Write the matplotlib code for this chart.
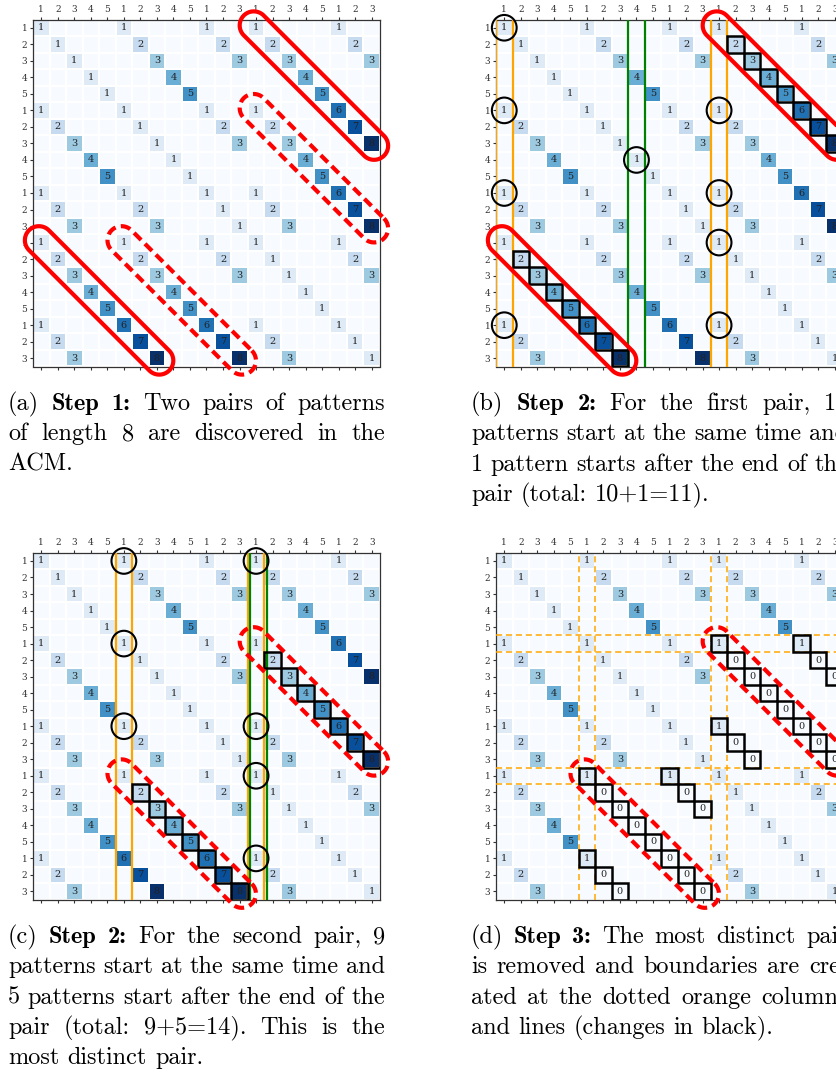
import numpy as np
import matplotlib
matplotlib.use('Agg')
import matplotlib.pyplot as plt
from matplotlib.patches import Polygon, Ellipse, Rectangle

plt.rcParams['font.family'] = 'DejaVu Serif'

# symbols of the sequence (row / column tick labels)
tick_labels = [1, 2, 3, 4, 5, 1, 2, 3, 4, 5, 1, 2, 3, 1, 2, 3, 4, 5, 1, 2, 3]

# accumulated cost matrix (ACM)
acm = [
    [1, 0, 0, 0, 0, 1, 0, 0, 0, 0, 1, 0, 0, 1, 0, 0, 0, 0, 1, 0, 0],
    [0, 1, 0, 0, 0, 0, 2, 0, 0, 0, 0, 2, 0, 0, 2, 0, 0, 0, 0, 2, 0],
    [0, 0, 1, 0, 0, 0, 0, 3, 0, 0, 0, 0, 3, 0, 0, 3, 0, 0, 0, 0, 3],
    [0, 0, 0, 1, 0, 0, 0, 0, 4, 0, 0, 0, 0, 0, 0, 0, 4, 0, 0, 0, 0],
    [0, 0, 0, 0, 1, 0, 0, 0, 0, 5, 0, 0, 0, 0, 0, 0, 0, 5, 0, 0, 0],
    [1, 0, 0, 0, 0, 1, 0, 0, 0, 0, 1, 0, 0, 1, 0, 0, 0, 0, 6, 0, 0],
    [0, 2, 0, 0, 0, 0, 1, 0, 0, 0, 0, 2, 0, 0, 2, 0, 0, 0, 0, 7, 0],
    [0, 0, 3, 0, 0, 0, 0, 1, 0, 0, 0, 0, 3, 0, 0, 3, 0, 0, 0, 0, 8],
    [0, 0, 0, 4, 0, 0, 0, 0, 1, 0, 0, 0, 0, 0, 0, 0, 4, 0, 0, 0, 0],
    [0, 0, 0, 0, 5, 0, 0, 0, 0, 1, 0, 0, 0, 0, 0, 0, 0, 5, 0, 0, 0],
    [1, 0, 0, 0, 0, 1, 0, 0, 0, 0, 1, 0, 0, 1, 0, 0, 0, 0, 6, 0, 0],
    [0, 2, 0, 0, 0, 0, 2, 0, 0, 0, 0, 1, 0, 0, 2, 0, 0, 0, 0, 7, 0],
    [0, 0, 3, 0, 0, 0, 0, 3, 0, 0, 0, 0, 1, 0, 0, 3, 0, 0, 0, 0, 8],
    [1, 0, 0, 0, 0, 1, 0, 0, 0, 0, 1, 0, 0, 1, 0, 0, 0, 0, 1, 0, 0],
    [0, 2, 0, 0, 0, 0, 2, 0, 0, 0, 0, 2, 0, 0, 1, 0, 0, 0, 0, 2, 0],
    [0, 0, 3, 0, 0, 0, 0, 3, 0, 0, 0, 0, 3, 0, 0, 1, 0, 0, 0, 0, 3],
    [0, 0, 0, 4, 0, 0, 0, 0, 4, 0, 0, 0, 0, 0, 0, 0, 1, 0, 0, 0, 0],
    [0, 0, 0, 0, 5, 0, 0, 0, 0, 5, 0, 0, 0, 0, 0, 0, 0, 1, 0, 0, 0],
    [1, 0, 0, 0, 0, 6, 0, 0, 0, 0, 6, 0, 0, 1, 0, 0, 0, 0, 1, 0, 0],
    [0, 2, 0, 0, 0, 0, 7, 0, 0, 0, 0, 7, 0, 0, 2, 0, 0, 0, 0, 1, 0],
    [0, 0, 3, 0, 0, 0, 0, 8, 0, 0, 0, 0, 8, 0, 0, 3, 0, 0, 0, 0, 1],
]

# step 3: cells recomputed after removing the most distinct pair (row, col, new value)
step3_rows = [5, 6, 7, 8, 9, 10, 11, 12, 5, 6, 7, 10, 11, 12,
              13, 14, 15, 16, 17, 18, 19, 20, 18, 19, 20, 13, 14, 15]
step3_cols = [13, 14, 15, 16, 17, 18, 19, 20, 18, 19, 20, 13, 14, 15,
              5, 6, 7, 8, 9, 10, 11, 12, 5, 6, 7, 10, 11, 12]
step3_vals = [1, 0, 0, 0, 0, 0, 0, 0, 1, 0, 0, 1, 0, 0,
              1, 0, 0, 0, 0, 0, 0, 0, 1, 0, 0, 1, 0, 0]

# pairs of patterns: (start row, start col, end row, end col)
pair1 = [(0, 13, 7, 20), (13, 0, 20, 7)]
pair2 = [(5, 13, 12, 20), (13, 5, 20, 12)]

# circled pattern starts
circles_b = [(0, 0), (5, 0), (10, 0), (18, 0), (5, 13), (10, 13), (13, 13), (18, 13), (8, 8)]
circles_c = [(0, 5), (5, 5), (10, 5), (0, 13), (10, 13), (13, 13), (18, 13)]

captions = {
    'a': ["(a) *Step 1:* Two pairs of patterns",
          "of length 8 are discovered in the",
          "ACM."],
    'b': ["(b) *Step 2:* For the first pair, 10",
          "patterns start at the same time and",
          "1 pattern starts after the end of the",
          "pair (total: 10+1=11)."],
    'c': ["(c) *Step 2:* For the second pair, 9",
          "patterns start at the same time and",
          "5 patterns start after the end of the",
          "pair (total: 9+5=14). This is the",
          "most distinct pair."],
    'd': ["(d) *Step 3:* The most distinct pair",
          "is removed and boundaries are cre-",
          "ated at the dotted orange columns",
          "and lines (changes in black)."],
}

W, H = 837, 1072
fig = plt.figure(figsize=(W / 100, H / 100), dpi=100)
n = len(tick_labels)


def make_ax(x0, y0, size=347):
    return fig.add_axes([x0 / W, 1 - (y0 + size) / H, size / W, size / H])


def draw_acm(ax, mat, extra=()):
    mat = np.array(mat)
    ax.pcolormesh(np.arange(n + 1), np.arange(n + 1), mat, cmap='Blues', vmin=0, vmax=8,
                  edgecolors='white', linewidth=0.3)
    for i in range(n):
        for j in range(n):
            if mat[i, j] or (i, j) in extra:
                ax.text(j + 0.5, i + 0.5, str(mat[i, j]), ha='center', va='center',
                        fontsize=7, color='#222222')
    ax.set_xlim(0, n)
    ax.set_ylim(n, 0)
    ax.set_xticks(np.arange(n) + 0.5)
    ax.set_yticks(np.arange(n) + 0.5)
    ax.set_xticklabels(tick_labels)
    ax.set_yticklabels(tick_labels)
    ax.tick_params(length=2.5, width=0.8, pad=1.5, labelsize=6.5, colors='#333333',
                   top=True, labeltop=True, bottom=True, labelbottom=False,
                   left=True, labelleft=True, right=False)
    for s in ax.spines.values():
        s.set_linewidth(0.9)
        s.set_color('#333333')


def stadium(ax, r0, c0, r1, c1, dashed=False, rad=0.85, ext=0.2):
    p0 = np.array([c0 + 0.5, r0 + 0.5])
    p1 = np.array([c1 + 0.5, r1 + 0.5])
    u = (p1 - p0) / np.linalg.norm(p1 - p0)
    nv = np.array([-u[1], u[0]])
    a = p0 - u * ext
    b = p1 + u * ext
    t1 = np.linspace(-np.pi / 2, np.pi / 2, 40)
    t2 = np.linspace(np.pi / 2, 3 * np.pi / 2, 40)
    pts = [b + rad * (np.cos(t) * u + np.sin(t) * nv) for t in t1]
    pts += [a + rad * (np.cos(t) * u + np.sin(t) * nv) for t in t2]
    poly = Polygon(pts, closed=True, fill=False, ec='red', lw=3, zorder=6, clip_on=False)
    if dashed:
        poly.set_linestyle((0, (2.4, 1.3)))
    ax.add_patch(poly)


def boxes(ax, cells):
    for r, c in cells:
        ax.add_patch(Rectangle((c, r), 1, 1, fill=False, ec='black', lw=1.8, zorder=4))


def chain_cells(r0, c0, r1, c1):
    return [(r0 + k, c0 + k) for k in range(1, r1 - r0 + 1)]


def ring(ax, cells):
    for r, c in cells:
        ax.add_patch(Ellipse((c + 0.5, r + 0.5), 1.5, 1.55, fill=False, ec='black',
                             lw=1.5, zorder=5, clip_on=False))


def col_lines(ax, col, color, shift=0.0, ls='-', lw=1.6):
    for x in (col, col + 1):
        ax.axvline(x + shift, color=color, lw=lw, ls=ls, zorder=3)


# (a)
ax_a = make_ax(33, 19.5)
draw_acm(ax_a, acm)
for p in pair1:
    stadium(ax_a, *p)
for p in pair2:
    stadium(ax_a, *p, dashed=True)

# (b)
ax_b = make_ax(496, 19.5)
draw_acm(ax_b, acm)
col_lines(ax_b, 0, 'orange')
col_lines(ax_b, 13, 'orange')
col_lines(ax_b, 8, 'green')
for p in pair1:
    boxes(ax_b, chain_cells(*p))
    stadium(ax_b, *p)
ring(ax_b, circles_b)

# (c)
ax_c = make_ax(33, 552.7)
draw_acm(ax_c, acm)
col_lines(ax_c, 5, 'orange')
col_lines(ax_c, 13, 'orange')
col_lines(ax_c, 13, 'green', shift=0.15)
for p in pair2:
    boxes(ax_c, chain_cells(*p))
    stadium(ax_c, *p, dashed=True)
ring(ax_c, circles_c)

# (d)
acm_d = np.array(acm)
changed = list(zip(step3_rows, step3_cols))
for r, c, v in zip(step3_rows, step3_cols, step3_vals):
    acm_d[r, c] = v
ax_d = make_ax(496, 552.7)
draw_acm(ax_d, acm_d, extra=set(changed))
for k in (5, 13):
    for x in (k, k + 1):
        ax_d.axvline(x, color='orange', lw=1.1, ls=(0, (4, 2.5)), zorder=3)
        ax_d.axhline(x, color='orange', lw=1.1, ls=(0, (4, 2.5)), zorder=3)
boxes(ax_d, changed)
for p in pair2:
    stadium(ax_d, *p, dashed=True)

# captions, justified like the LaTeX source
renderer = fig.canvas.get_renderer()
FS = 17.5
LH = 30.3


def caption(lines, x0, width, y0):
    space = FS * 100 / 72 * 0.333
    for k, line in enumerate(lines):
        toks = []
        for s, seg in enumerate(line.split('*')):
            for w in seg.split():
                toks.append((w, s % 2 == 1))
        arts = [fig.text(0, 0, w, fontsize=FS, family='cmb10' if b else 'cmr10', va='baseline')
                for w, b in toks]
        widths = [t.get_window_extent(renderer).width for t in arts]
        if k < len(lines) - 1 and len(toks) > 1:
            gap = (width - sum(widths)) / (len(toks) - 1)
        else:
            gap = space
        x = x0
        y = y0 + k * LH
        for t, w in zip(arts, widths):
            t.set_position((x / W, 1 - y / H))
            x += w + gap


caption(captions['a'], 8, 377, 410)
caption(captions['b'], 471, 377, 410)
caption(captions['c'], 8, 377, 943)
caption(captions['d'], 471, 377, 943)

fig.savefig('out.png', dpi=100)
